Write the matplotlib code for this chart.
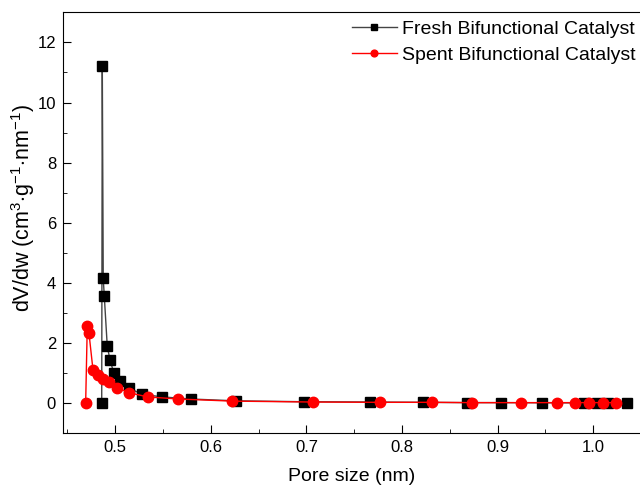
import matplotlib
matplotlib.use('Agg')
import matplotlib.pyplot as plt
from matplotlib.ticker import MultipleLocator

plt.rcParams['font.family'] = ['Liberation Sans', 'DejaVu Sans']
plt.rcParams['mathtext.fontset'] = 'custom'
plt.rcParams['mathtext.rm'] = 'Liberation Sans'
plt.rcParams['mathtext.it'] = 'Liberation Sans:italic'

# fresh catalyst (black squares)
fresh_x = [0.4858, 0.4864, 0.4874, 0.4885, 0.4916, 0.4944, 0.4986, 0.5052, 0.5143,
           0.5276, 0.5492, 0.5792, 0.6259, 0.6977, 0.7664, 0.8215, 0.8676, 0.9031,
           0.9460, 0.9903, 1.0036, 1.0157, 1.0350]
fresh_y = [0.0, 11.23, 4.15, 3.56, 1.90, 1.45, 0.99, 0.74, 0.51,
           0.30, 0.21, 0.14, 0.08, 0.05, 0.04, 0.03, 0.02, 0.02,
           0.015, 0.01, 0.01, 0.01, 0.01]

# spent catalyst (red circles)
spent_x = [0.4690, 0.4707, 0.4725, 0.4767, 0.4816, 0.4874, 0.4937, 0.5021, 0.5143,
           0.5339, 0.5659, 0.6224, 0.7065, 0.7772, 0.8313, 0.8736, 0.9240, 0.9623,
           0.9809, 0.9958, 1.0105, 1.0234]
spent_y = [0.0, 2.58, 2.32, 1.10, 0.93, 0.82, 0.69, 0.52, 0.35,
           0.21, 0.14, 0.07, 0.04, 0.03, 0.03, 0.02, 0.02, 0.02,
           0.02, 0.02, 0.02, 0.02]

fig = plt.figure(figsize=(6.4, 4.88), dpi=100)
ax = fig.add_axes([63 / 640, 1 - 433.3 / 488, (641 - 63) / 640, (433.3 - 12.3) / 488])

ax.plot(fresh_x, fresh_y, color='#444444', lw=1.0, marker='s', ms=6.5,
        mfc='black', mec='black', label='Fresh Bifunctional Catalyst')
ax.plot(spent_x, spent_y, color='red', lw=1.0, marker='o', ms=7.5,
        mfc='red', mec='red', label='Spent Bifunctional Catalyst')

ax.set_xlim(0.4453, 1.05)
ax.set_ylim(-1, 13)
ax.xaxis.set_major_locator(MultipleLocator(0.1))
ax.xaxis.set_minor_locator(MultipleLocator(0.05))
ax.yaxis.set_major_locator(MultipleLocator(2))
ax.yaxis.set_minor_locator(MultipleLocator(1))
ax.tick_params(which='both', direction='in', labelsize=12, pad=5)
ax.tick_params(which='major', length=6)
ax.tick_params(which='minor', length=3)
ax.spines['right'].set_visible(False)

ax.set_xlabel('Pore size (nm)', fontsize=14, labelpad=9)
ax.set_ylabel('dV/dw (cm$^{3}$$\\cdot$g$^{\\mathrm{-1}}$$\\cdot$nm$^{\\mathrm{-1}}$)',
              fontsize=15.5)
ax.yaxis.set_label_coords(-0.045, 0.535)

ax.legend(loc='upper left', bbox_to_anchor=(348 / 640, 1 - 16 / 488),
          bbox_transform=fig.transFigure, frameon=False, fontsize=14,
          handlelength=2.3, handletextpad=0.3, markerscale=0.65,
          borderpad=0.2, borderaxespad=0, labelspacing=0.45)

plt.savefig('out.png', dpi=100)
